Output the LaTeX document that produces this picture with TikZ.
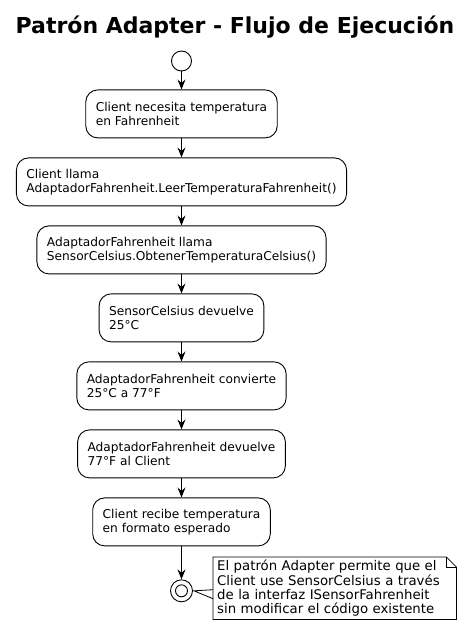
\documentclass[tikz,border=0pt]{standalone}
\usepackage{fontspec}
\setmainfont{DejaVu Sans}
\usetikzlibrary{arrows.meta, positioning, shapes.geometric, calc}

\begin{document}
\begin{tikzpicture}[
  x=1pt, y=1pt,
  node distance=19.1pt,
  block/.style={draw, rounded corners=12pt, minimum height=48pt, align=left,
                font=\fontsize{12.2}{14}\selectfont, inner xsep=10pt, line width=0.9pt},
  arr/.style={-{Stealth[length=10pt, width=8pt, inset=3.5pt]}, line width=0.9pt},
  startnode/.style={draw, circle, minimum size=20pt, inner sep=0pt, line width=0.9pt},
  endnode/.style={draw, circle, minimum size=22pt, inner sep=0pt, line width=0.9pt},
  notetext/.style={align=left, font=\fontsize{13.3}{14.2}\selectfont, inner xsep=4pt,
                   inner ysep=3pt, minimum width=243pt, minimum height=61pt, text width=235pt},
]
  \useasboundingbox (0,0) rectangle (471,-633);

  \node[font=\fontsize{22}{24}\selectfont\bfseries] (title) at (235,-27) {Patrón Adapter - Flujo de Ejecución};

  \node[startnode] (start) at (181.5,-61) {};
  \node[block, below=18pt of start] (need) {Client necesita temperatura\\en Fahrenheit};
  \node[block, below=of need] (call) {Client llama\\AdaptadorFahrenheit.LeerTemperaturaFahrenheit()};
  \node[block, below=of call] (adcall) {AdaptadorFahrenheit llama\\SensorCelsius.ObtenerTemperaturaCelsius()};
  \node[block, below=of adcall] (sensor) {SensorCelsius devuelve\\25°C};
  \node[block, below=of sensor] (convert) {AdaptadorFahrenheit convierte\\25°C a 77°F};
  \node[block, below=of convert] (back) {AdaptadorFahrenheit devuelve\\77°F al Client};
  \node[block, below=of back] (recv) {Client recibe temperatura\\en formato esperado};
  \node[endnode, below=33pt of recv] (stop) {};
  \node[draw, circle, minimum size=12pt, inner sep=0pt, line width=0.9pt] (stopin) at (stop) {};

  \draw[arr] (start) -- (need);
  \draw[arr] (need) -- (call);
  \draw[arr] (call) -- (adcall);
  \draw[arr] (adcall) -- (sensor);
  \draw[arr] (sensor) -- (convert);
  \draw[arr] (convert) -- (back);
  \draw[arr] (back) -- (recv);
  \draw[arr] (recv) -- (stop);

  % Note
  \node[notetext, anchor=north west] (note) at (213,-557) {El patrón Adapter permite que el\\Client use SensorCelsius a través\\de la interfaz ISensorFahrenheit\\sin modificar el código existente};
  \draw[line width=0.8pt] (note.north west) -- ($(note.north east)+(-10,0)$) -- ($(note.north east)+(0,-10)$)
    -- (note.south east) -- (note.south west) -- cycle;
  \draw[line width=0.8pt] ($(note.north east)+(-10,0)$) |- ($(note.north east)+(0,-10)$);
  \draw[line width=0.8pt] ($(note.west)+(0,-1.5)$) -- ($(stop.east)+(1,0)$) -- ($(note.west)+(0,-10.5)$);

\end{tikzpicture}
\end{document}
